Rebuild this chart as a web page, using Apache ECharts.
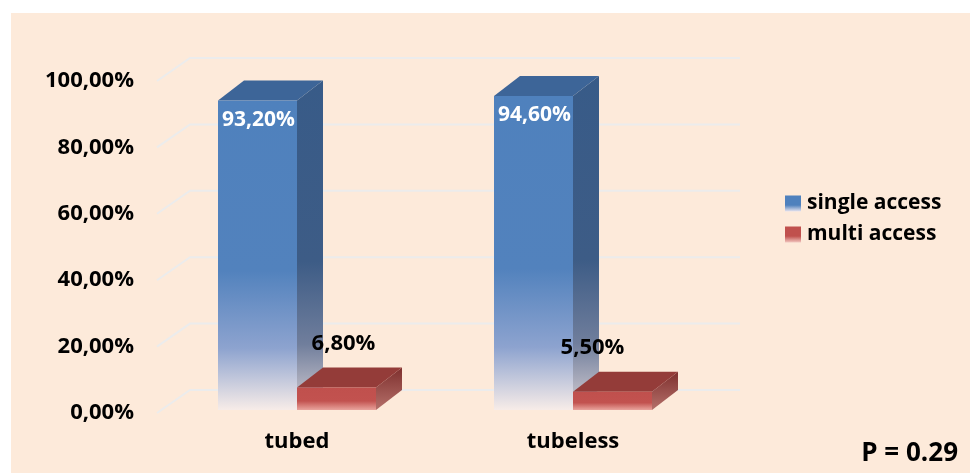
<!DOCTYPE html>
<html><head><meta charset="utf-8">
<script src="https://cdn.jsdelivr.net/npm/echarts@6/dist/echarts.min.js"></script>
<style>html,body{margin:0;padding:0;background:#fff;}#c{width:970px;height:473px;}</style>
</head><body><div id="c"></div>
<script>
// ---- data ----
const categories = ['tubed', 'tubeless'];
const singleAccess = [93.2, 94.6];
const multiAccess = [6.8, 5.5];
const yTicks = [0, 20, 40, 60, 80, 100];
const pValueText = 'P = 0.29';

// ---- layout / style constants ----
const FONT = '"Open Sans", "Noto Sans", sans-serif';
const multiLabelShift = [7, -20];
const fmt = v => v.toFixed(2).replace('.', ',') + '%';
const G = (stops) => new echarts.graphic.LinearGradient(0, 0, 0, 1, stops.map((c, i) => ({offset: c[0], color: c[1]})));

const chart = echarts.init(document.getElementById('c'));

function gridRender(params, api) {
  const v = api.value(1);
  const y = api.coord([0, v])[1];
  const cs = params.coordSys;
  return {
    type: 'polyline',
    shape: {points: [[cs.x - 2, y], [cs.x + 31, y - 23], [cs.x + cs.width + 29, y - 23]]},
    style: {stroke: '#ececec', lineWidth: 2, fill: null}
  };
}

function barRender(s) {
  return function (params, api) {
    const cat = api.value(0), val = api.value(1);
    const c = api.coord([cat, 0]);
    const t = api.coord([cat, val]);
    const cx = c[0];
    const yb = c[1] - 3, yt = t[1] - 3;
    const w = 79, dx = 26, dy = -20;
    const x0 = s === 0 ? cx - w : cx, x1 = x0 + w;
    let front, top, side, label;
    if (s === 0) {
      front = G([[0, '#4f81bd'], [0.55, '#5282bd'], [0.8, '#8da3cf'], [1, '#f7ece8']]);
      side = G([[0, '#385b88'], [0.55, '#3d5c86'], [0.8, '#707e9c'], [1, '#d8d0d4']]);
      top = '#3d6598';
      label = {type: 'text', z2: 10, style: {text: fmt(val), x: (x0 + x1) / 2 + 1, y: yt + 19, fill: '#fff', font: 'bold 21px ' + FONT, align: 'center', verticalAlign: 'middle'}};
    } else {
      front = G([[0, '#c0504d'], [0.6, '#c2524f'], [1, '#e9a49d']]);
      side = G([[0, '#7e302e'], [1, '#b5706a']]);
      top = '#943c39';
      label = {type: 'text', z2: 10, style: {text: fmt(val), x: (x0 + x1) / 2 + multiLabelShift[params.dataIndex], y: yt - 44, fill: '#000', font: 'bold 22px ' + FONT, align: 'center', verticalAlign: 'middle'}};
    }
    return {
      type: 'group',
      children: [
        {type: 'polygon', shape: {points: [[x1, yt], [x1 + dx, yt + dy], [x1 + dx, yb + dy], [x1, yb]]}, style: {fill: side}},
        {type: 'polygon', shape: {points: [[x0, yt], [x1, yt], [x1 + dx, yt + dy], [x0 + dx, yt + dy]]}, style: {fill: top}},
        {type: 'rect', shape: {x: x0, y: yt, width: w, height: yb - yt}, style: {fill: front}},
        label
      ]
    };
  };
}

chart.setOption({
  backgroundColor: 'transparent',
  animation: false,
  graphic: [{type: 'rect', z: -10, shape: {x: 11, y: 13, width: 959, height: 460}, style: {fill: '#fdeada'}, silent: true}],
  title: {text: pValueText, right: 7, top: 436, textStyle: {fontFamily: FONT, fontWeight: 'bold', fontSize: 26, color: '#000'}},
  legend: {
    orient: 'vertical', left: 780, top: 188, itemWidth: 16, itemHeight: 16, itemGap: 10,
    icon: 'rect',
    textStyle: {fontFamily: FONT, fontWeight: 'bold', fontSize: 21, color: '#000', padding: [0, 0, 0, 1]},
    data: [
      {name: 'single access', itemStyle: {color: G([[0, '#4f81bd'], [0.6, '#4f81bd'], [1, '#e8e4ee']])}},
      {name: 'multi access', itemStyle: {color: G([[0, '#c0504d'], [0.6, '#c0504d'], [1, '#f2c7c0']])}}
    ]
  },
  grid: {left: 159, right: 259, top: 81, bottom: 60},
  xAxis: {
    type: 'category', data: categories,
    axisLine: {show: false}, axisTick: {show: false},
    axisLabel: {margin: 18, fontFamily: FONT, fontWeight: 'bold', fontSize: 22, color: '#000'}
  },
  yAxis: {
    type: 'value', min: 0, max: 100, interval: 20,
    axisLine: {show: false}, axisTick: {show: false}, splitLine: {show: false},
    axisLabel: {margin: 25, formatter: fmt, fontFamily: FONT, fontWeight: 'bold', fontSize: 22, color: '#000'}
  },
  series: [
    {type: 'custom', name: 'grid', renderItem: gridRender, data: yTicks.map(v => [0, v]), z: 1, silent: true, clip: false},
    {type: 'custom', name: 'single access', renderItem: barRender(0), data: singleAccess.map((v, i) => [i, v]), z: 2, clip: false,
      itemStyle: {color: '#4f81bd'}},
    {type: 'custom', name: 'multi access', renderItem: barRender(1), data: multiAccess.map((v, i) => [i, v]), z: 3, clip: false,
      itemStyle: {color: '#c0504d'}}
  ]
});
</script></body></html>
